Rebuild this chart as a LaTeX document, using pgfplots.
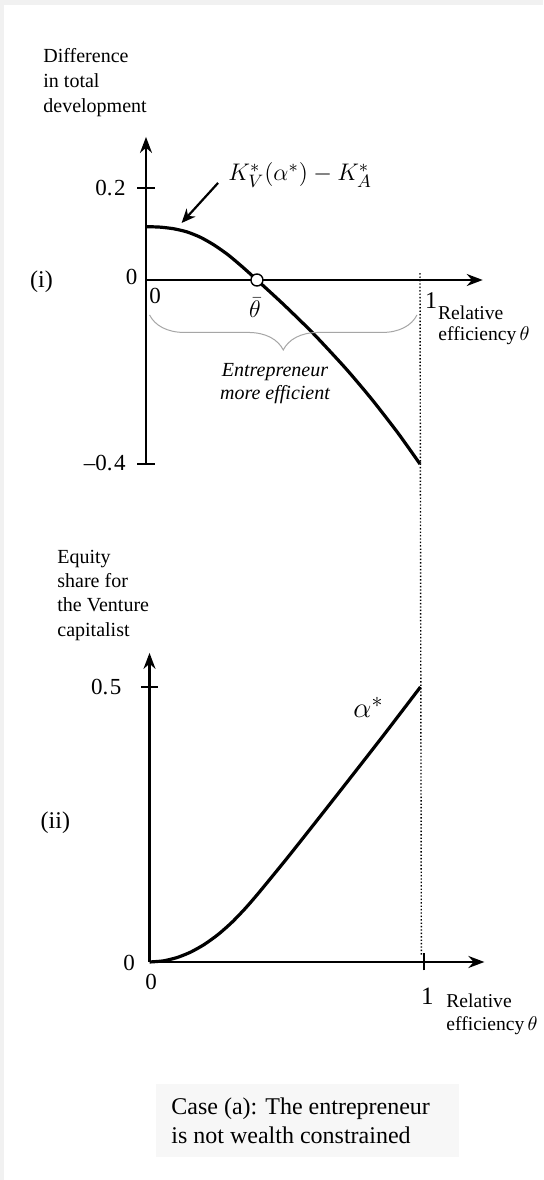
\documentclass[border=0pt]{standalone}
\usepackage{fontspec}
\setmainfont{Liberation Serif}
\usepackage{pgfplots}
\pgfplotsset{compat=1.18}
\usetikzlibrary{arrows.meta,decorations.pathreplacing}

\definecolor{bandgray}{HTML}{F1F1F1}
\definecolor{boxgray}{HTML}{F7F7F7}

\newcommand{\fs}[1]{\fontsize{#1}{#1}\selectfont}

% one picture unit = one pixel of the 543x1180 reference
\pgfplotstableread{
t     d
0     0.116
0.05  0.115
0.1   0.1115
0.15  0.1045
0.2   0.0925
0.25  0.0755
0.3   0.0545
0.35  0.0295
0.405 0
0.5   -0.052
0.61  -0.116
0.73  -0.193
0.825 -0.26
0.92  -0.333
1     -0.4
}\diffdata

\pgfplotstableread{
t     a
0     0
0.05  0.002
0.1   0.008
0.15  0.018
0.2   0.032
0.25  0.05
0.3   0.072
0.35  0.098
0.4   0.127
0.5   0.188
0.6   0.251
0.7   0.3145
0.85  0.4105
0.987 0.5
}\sharedata

\pgfplotsset{
  diagram/.style={
    axis lines=middle,
    clip=false,
    enlargelimits=false,
    tick align=center,
    major tick length=8.5pt,
    every tick/.style={black, line width=0.8pt},
    xticklabels={}, yticklabels={},
    axis line style={line width=1.1pt},
    every inner x axis line/.append style={-{Stealth[length=8pt,width=6pt]}},
    every inner y axis line/.append style={-{Stealth[length=8pt,width=6pt]}},
  },
}

\begin{document}
\begin{tikzpicture}[x=0.5pt,y=0.5pt]
\useasboundingbox (0,0) rectangle (543,1180);
\fill[white] (0,0) rectangle (543,1180);
\fill[bandgray] (0,1175) rectangle (543,1180);
\fill[bandgray] (0,0) rectangle (4,1180);

% ---------- panel (i) ----------
\begin{axis}[diagram,
  anchor=origin, at={(73pt,450pt)},
  x=137pt, y=230pt,
  xmin=0, xmax=1.229, ymin=-0.4, ymax=0.311,
  xtick=\empty, ytick={-0.4,0.2},
]
\addplot[black, line width=1.6pt, smooth, tension=0.4] table[x=t, y=d] {\diffdata};
\draw[densely dotted, line width=0.7pt] (axis cs:1,0.015) -- (axis cs:1.005,-1.47);
\addplot[only marks, mark=*, mark size=3pt,
  mark options={fill=white, draw=black, line width=0.7pt}] coordinates {(0.405,0)};
\draw[line width=1.1pt, -{Stealth[length=7pt,width=6pt]}]
  (axis cs:0.263,0.211) -- (axis cs:0.130,0.124);
\draw[gray!70, line width=0.5pt, decorate,
  decoration={brace, mirror, amplitude=17.5pt, aspect=0.5}]
  (axis cs:0.013,-0.076) -- (axis cs:0.989,-0.076);
\end{axis}

\node[anchor=base west, inner sep=0] at (228,999) {\fs{12.5}$K_V^*(\alpha^*)-K_A^*$};
\node[anchor=base east, inner sep=0] at (126,984) {\fs{11.5}0.\kern0.8pt2};
\node[anchor=base, inner sep=0] at (131.7,895) {\fs{11.5}0};
\node[anchor=base east, inner sep=0] at (126,709.3) {\fs{11.5}--0.\kern0.8pt4};
\node[anchor=base, inner sep=0] at (155,876) {\fs{11.5}0};
\node[anchor=base, inner sep=0] at (255,862) {\fs{12}$\bar{\theta}$};
\node[anchor=base, inner sep=0] at (431,871.7) {\fs{12}1};
\node[anchor=base west, inner sep=0] at (437.7,860.7) {\fs{9.8}Relative};
\node[anchor=base west, inner sep=0] at (438,839.3) {\fs{9.8}efficiency\,$\theta$};
\node[anchor=base, inner sep=0] at (275,803) {\fs{10}\itshape Entrepreneur};
\node[anchor=base, inner sep=0] at (275,780) {\fs{10}\itshape more efficient};

\node[anchor=base west, inner sep=0] at (43,1117.3) {\fs{10}Difference};
\node[anchor=base west, inner sep=0] at (43,1092.3) {\fs{10}in total};
\node[anchor=base west, inner sep=0] at (43,1067.3) {\fs{10}development};
\node[anchor=base, inner sep=0] at (41.5,892.6) {\fs{12}(i)};

% ---------- panel (ii) ----------
\begin{axis}[diagram,
  anchor=origin, at={(74.75pt,109pt)},
  x=137.25pt, y=275pt,
  xmin=0, xmax=1.22, ymin=0, ymax=0.562,
  xtick={1}, ytick={0.5},
]
\addplot[black, line width=1.6pt, smooth, tension=0.4] table[x=t, y=a] {\sharedata};
\end{axis}

\node[anchor=base, inner sep=0] at (368.5,462) {\fs{15}$\alpha^*$};
\node[anchor=base east, inner sep=0] at (121.8,485) {\fs{11.5}0.\kern0.8pt5};
\node[anchor=base, inner sep=0] at (129,209.3) {\fs{11.5}0};
\node[anchor=base, inner sep=0] at (151,190) {\fs{11.5}0};
\node[anchor=base, inner sep=0] at (427.3,175) {\fs{12.5}1};
\node[anchor=base west, inner sep=0] at (446,172.7) {\fs{9.8}Relative};
\node[anchor=base west, inner sep=0] at (446,149.3) {\fs{9.8}efficiency\,$\theta$};

\node[anchor=base west, inner sep=0] at (57,616.7) {\fs{10}Equity};
\node[anchor=base west, inner sep=0] at (57,592.4) {\fs{10}share for};
\node[anchor=base west, inner sep=0] at (57,568.1) {\fs{10}the Venture};
\node[anchor=base west, inner sep=0] at (57,543.8) {\fs{10}capitalist};
\node[anchor=base, inner sep=0] at (55.4,351) {\fs{12}(ii)};

% ---------- caption box ----------
\fill[boxgray] (155.7,23) rectangle (459,96);
\node[anchor=base west, inner sep=0] at (171,65) {\fs{12}Case (a): The entrepreneur};
\node[anchor=base west, inner sep=0] at (171,36.7) {\fs{12}is not wealth constrained};
\end{tikzpicture}
\end{document}
